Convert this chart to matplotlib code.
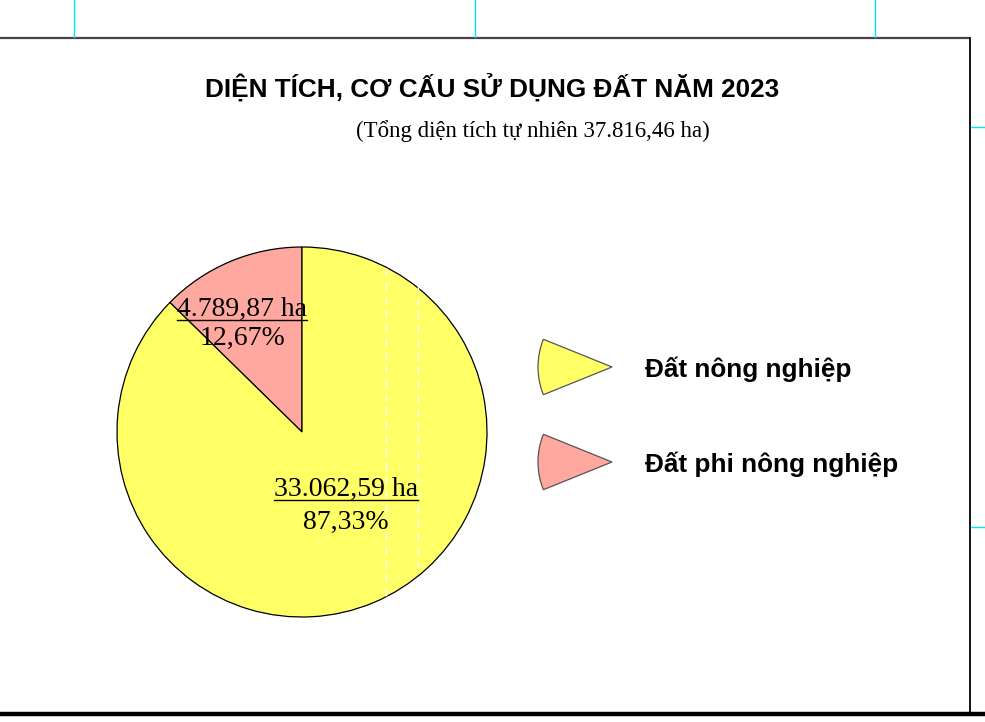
import matplotlib
matplotlib.use('Agg')
import matplotlib.pyplot as plt
from matplotlib.patches import Wedge

# data
categories = ['Đất phi nông nghiệp', 'Đất nông nghiệp']
areas_ha = [4789.87, 33062.59]
area_labels = ['4.789,87 ha', '33.062,59 ha']
pct_labels = ['12,67%', '87,33%']
colors = ['#FFA8A0', '#FFFF66']
title = 'DIỆN TÍCH, CƠ CẤU SỬ DỤNG ĐẤT NĂM 2023'
subtitle = '(Tổng diện tích tự nhiên 37.816,46 ha)'

W, H = 985, 722
fig = plt.figure(figsize=(W / 100, H / 100), dpi=100)
fig.patch.set_facecolor('white')

# pie
cx, cy, r = 302, 432, 185
pie_ax = fig.add_axes([(cx - r) / W, 1 - (cy + r) / H, 2 * r / W, 2 * r / H])
wedges, _ = pie_ax.pie(areas_ha, colors=colors, startangle=90, counterclock=True,
                       wedgeprops=dict(edgecolor='black', linewidth=0.9))
pie_ax.set_aspect('equal')
pie_ax.set_xlim(-1, 1)
pie_ax.set_ylim(-1, 1)

# overlay axes in pixel coords (frame, labels, legend), on top of the pie
ov = fig.add_axes([0, 0, 1, 1])
ov.set_xlim(0, W)
ov.set_ylim(H, 0)
ov.axis('off')
ov.set_zorder(5)

# frame lines
ov.plot([0, 970], [38, 38], color='#444444', lw=1.6, solid_capstyle='butt')
ov.plot([970, 970], [38, 714], color='black', lw=1.3)
ov.plot([0, W], [714, 714], color='black', lw=3.2)
for xc in [74, 475, 875]:
    ov.plot([xc, xc], [0, 37], color='#00E5F0', lw=1.0)
for yc in [127, 527]:
    ov.plot([971, W], [yc, yc], color='#00E5F0', lw=1.0)

# white dashed artefact lines inside the yellow slice
ov.plot([386, 386], [268, 596], color='white', lw=1.0, ls=(0, (6, 4)))
ov.plot([418, 418], [283, 572], color='white', lw=1.0, ls=(0, (6, 4)))

# labels
serif = ['Liberation Serif', 'DejaVu Serif']
label_pos = [(242, 316, 345), (346, 496, 529)]
area_texts = []
for i, (lx, ly1, ly2) in enumerate(label_pos):
    t = ov.text(lx, ly1, area_labels[i], family=serif, fontsize=20, ha='center',
                va='baseline', color='black')
    area_texts.append(t)
    ov.text(lx, ly2, pct_labels[i], family=serif, fontsize=20, ha='center',
            va='baseline', color='black')

# underline the area labels
fig.canvas.draw()
rend = fig.canvas.get_renderer()
inv = ov.transData.inverted()
for t in area_texts:
    bb = t.get_window_extent(rend)
    x0, _ = inv.transform((bb.x0, bb.y0))
    x1, _ = inv.transform((bb.x1, bb.y0))
    _, yb = t.get_position()
    ov.plot([x0, x1], [yb + 4, yb + 4], color='black', lw=1.0)

# titles
ov.text(492, 98, title, family=['Liberation Sans', 'DejaVu Sans'], fontsize=18.8,
        fontweight='bold', ha='center', va='baseline')
ov.text(533, 137, subtitle, family=serif, fontsize=16.5, ha='center', va='baseline')

# legend
leg_y = [367, 462]
for i, name in enumerate(reversed(categories)):
    col = list(reversed(colors))[i]
    ov.add_patch(Wedge((612, leg_y[i]), 74, 158, 202, facecolor=col,
                       edgecolor='#555555', linewidth=0.9))
    ov.text(645, leg_y[i] + 10, name, family=['Liberation Sans', 'DejaVu Sans'],
            fontsize=18.8, fontweight='bold', ha='left', va='baseline')

fig.savefig('out.png', dpi=100, facecolor='white')
